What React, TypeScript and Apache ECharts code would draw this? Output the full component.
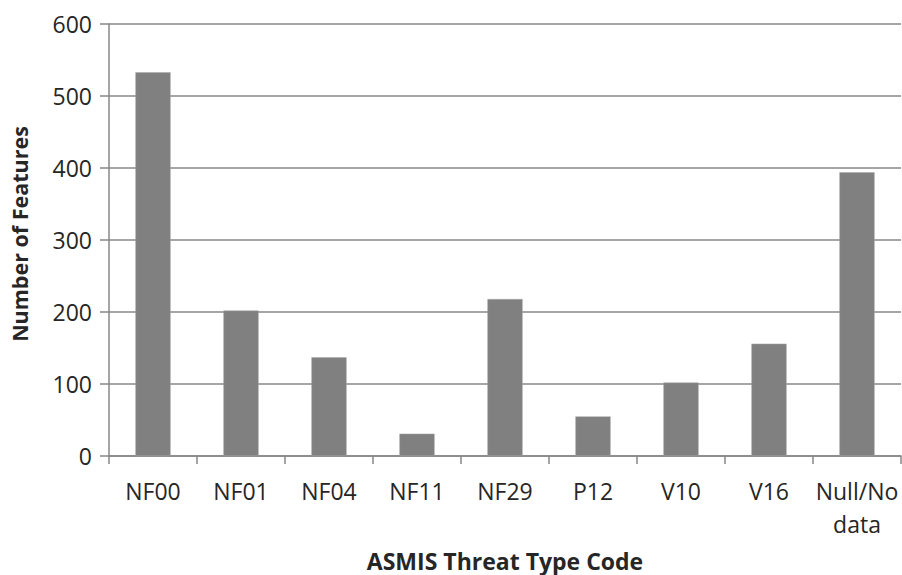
import React, { useEffect, useRef } from "react";
import * as echarts from "echarts";

const categories = ["NF00", "NF01", "NF04", "NF11", "NF29", "P12", "V10", "V16", "Null/No\ndata"];
const values = [533, 202, 137, 31, 218, 55, 102, 156, 394];
const yTicks = { min: 0, max: 600, interval: 100 };
const xTitle = "ASMIS Threat Type Code";
const yTitle = "Number of Features";

const FONT = "'Open Sans', sans-serif";
const LINE = "#878787";
const TEXT = "#262626";

export default function App() {
  const ref = useRef<HTMLDivElement>(null);
  useEffect(() => {
    if (!ref.current) return;
    const chart = echarts.init(ref.current, undefined, { renderer: "svg" });
    chart.setOption({
      animation: false,
      backgroundColor: "#ffffff",
      grid: { left: 109, right: 1, top: 24, bottom: 119, outerBoundsMode: "none", containLabel: false },
      xAxis: {
        type: "category",
        data: categories,
        boundaryGap: true,
        axisLine: { lineStyle: { color: LINE, width: 1.5 } },
        axisTick: { show: true, length: 8, lineStyle: { color: LINE, width: 1.5 }, alignWithLabel: false },
        axisLabel: {
          color: TEXT,
          fontFamily: FONT,
          fontSize: 23,
          margin: 18,
          lineHeight: 33,
          interval: 0,
        },
        name: xTitle,
        nameLocation: "middle",
        nameGap: 93,
        nameTextStyle: { color: TEXT, fontFamily: FONT, fontSize: 23, fontWeight: "bold" },
      },
      yAxis: {
        type: "value",
        min: yTicks.min,
        max: yTicks.max,
        interval: yTicks.interval,
        axisLine: { show: true, lineStyle: { color: LINE, width: 1.5 } },
        axisTick: { show: true, length: 9, lineStyle: { color: LINE, width: 1.5 } },
        splitLine: { show: true, lineStyle: { color: LINE, width: 1.5 } },
        axisLabel: { color: TEXT, fontFamily: FONT, fontSize: 23, margin: 17 },
        name: yTitle,
        nameLocation: "middle",
        nameGap: 79,
        nameRotate: 90,
        nameTextStyle: { color: TEXT, fontFamily: FONT, fontSize: 21.5, fontWeight: "bold", padding: [0, 0, 0, 12] },
      },
      series: [
        {
          type: "bar",
          data: values,
          barWidth: "40%",
          itemStyle: { color: "#808080", borderColor: "#a6a6a6", borderWidth: 0.5 },
        },
      ],
    });
    return () => chart.dispose();
  }, []);
  return (
    <div
      ref={ref}
      style={{ position: "absolute", left: 0, top: 0, width: 902, height: 575, background: "#fff" }}
    />
  );
}
